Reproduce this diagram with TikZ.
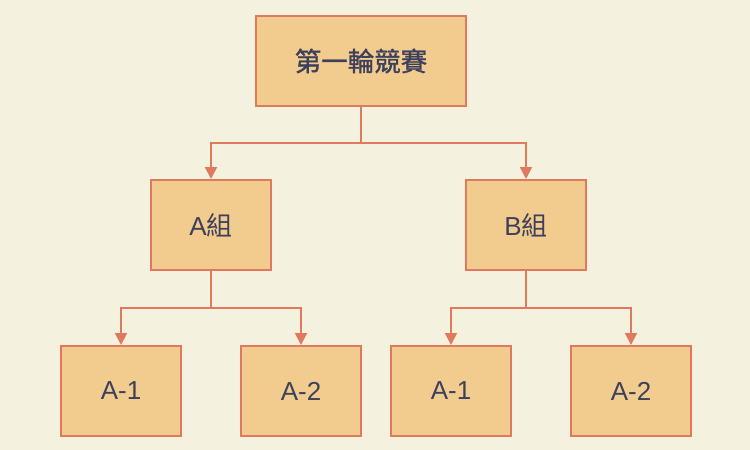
\documentclass[tikz,border=0pt]{standalone}
\usepackage{fontspec}
\setmainfont{Liberation Sans}
\newfontfamily\cjk{Noto Sans CJK TC}
\newfontfamily\cjkb{Noto Sans CJK TC}[FakeBold=1.2]
\usetikzlibrary{arrows.meta}
\definecolor{bgc}{HTML}{F4F1DE}
\definecolor{boxfill}{HTML}{F2CC8F}
\definecolor{edgec}{HTML}{E07A5F}
\definecolor{txtc}{HTML}{3D405B}
\tikzset{
  box/.style={draw=edgec, fill=boxfill, line width=2pt, rectangle, minimum width=120pt, minimum height=90pt, inner sep=0pt, text=txtc, font=\fontsize{26}{30}\selectfont},
  link/.style={draw=edgec, line width=2pt},
  conn/.style={link, -{Triangle[length=12pt,width=12pt]}},
}
\begin{document}
\begin{tikzpicture}[x=1pt,y=-1pt]
\fill[bgc] (0,0) rectangle (750,450);
\useasboundingbox (0,0) rectangle (750,450);
\node[box, minimum width=210pt] (top) at (361,61) {\fontsize{26.5}{30}\selectfont\cjkb 第一輪競賽};
\node[box] (A) at (211,225) {A{\cjk 組}};
\node[box] (B) at (526,225) {B{\cjk 組}};
\node[box] (a1) at (121,391) {A-1};
\node[box] (a2) at (301,391) {A-2};
\node[box] (b1) at (451,391) {A-1};
\node[box] (b2) at (631,391) {A-2};
\coordinate (j0) at (361,143);
\coordinate (jA) at (211,308);
\coordinate (jB) at (526,308);
\draw[link] (top.south) -- (j0);
\draw[conn] (j0) -| (A.north);
\draw[conn] (j0) -| (B.north);
\draw[link] (A.south) -- (jA);
\draw[conn] (jA) -| (a1.north);
\draw[conn] (jA) -| (a2.north);
\draw[link] (B.south) -- (jB);
\draw[conn] (jB) -| (b1.north);
\draw[conn] (jB) -| (b2.north);
\end{tikzpicture}
\end{document}
